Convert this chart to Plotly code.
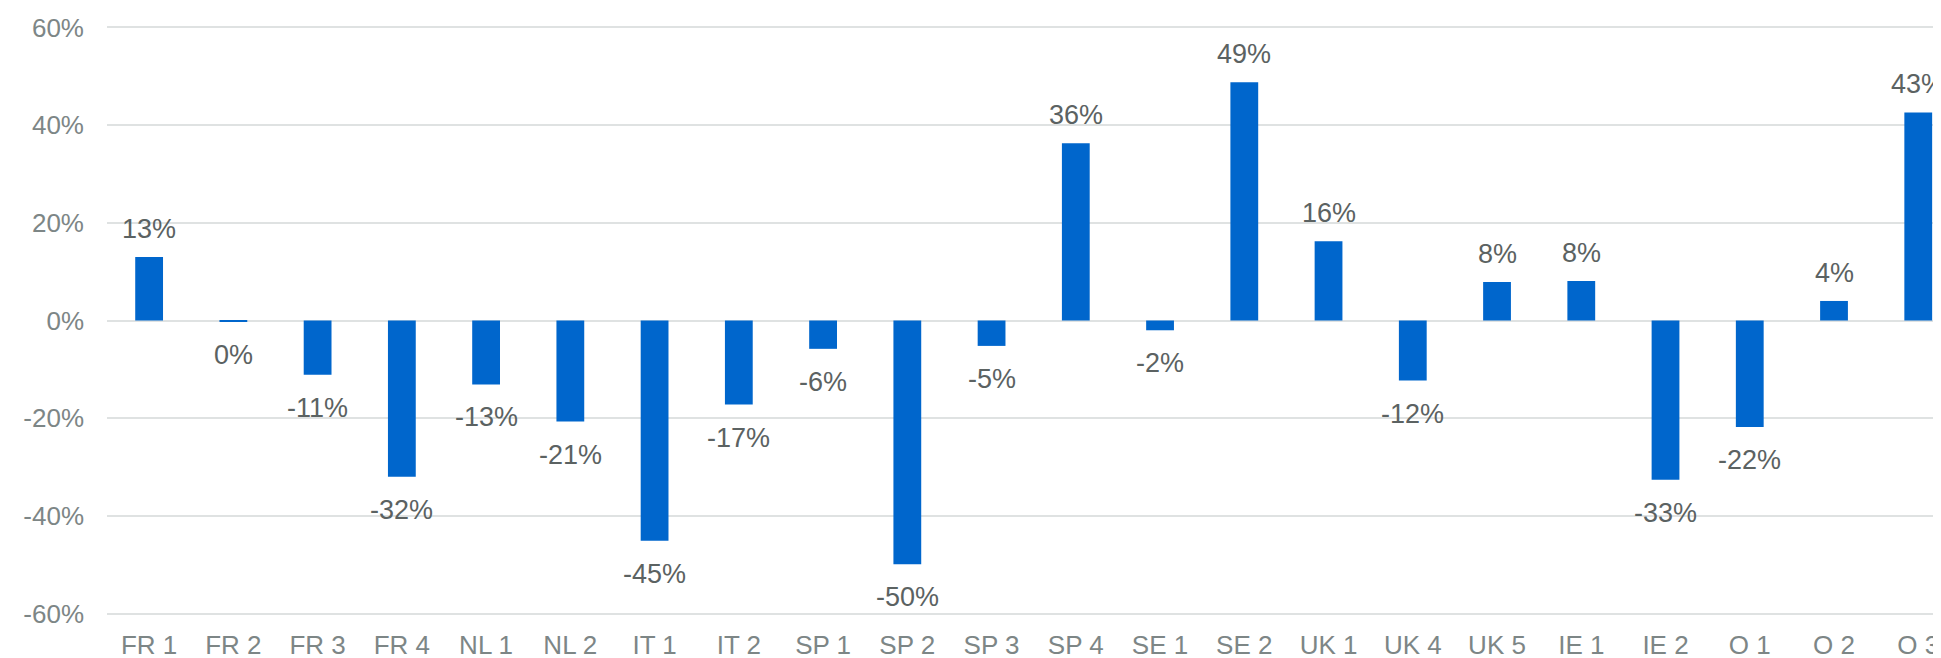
import plotly.graph_objects as go

categories = ["FR 1", "FR 2", "FR 3", "FR 4", "NL 1", "NL 2", "IT 1", "IT 2", "SP 1", "SP 2", "SP 3",
              "SP 4", "SE 1", "SE 2", "UK 1", "UK 4", "UK 5", "IE 1", "IE 2", "O 1", "O 2", "O 3"]
values = [13.0, -0.3, -11.1, -32.0, -13.1, -20.7, -45.1, -17.2, -5.8, -49.9, -5.2,
          36.3, -2.0, 48.8, 16.2, -12.3, 7.9, 8.1, -32.6, -21.8, 4.0, 42.6]
tick_values = [-60, -40, -20, 0, 20, 40, 60]
tick_labels = ["-60%", "-40%", "-20%", "0%", "20%", "40%", "60%"]

labels = [f"{int(round(v))}%" for v in values]

BAR = "#0066cc"
TICK = "#7d8686"
DATA = "#5b6262"
FONT = "Liberation Sans, Arial, sans-serif"

fig = go.Figure()
fig.add_trace(go.Bar(x=categories, y=values, marker=dict(color=BAR, line=dict(width=0)),
                     width=0.33, hoverinfo="x+y"))

annotations = []
for c, v, t in zip(categories, values, labels):
    annotations.append(dict(x=c, y=v, xref="x", yref="y", text=t, showarrow=False,
                            yanchor="middle", xanchor="center",
                            yshift=28 if v > 0 else -33,
                            font=dict(family=FONT, size=27, color=DATA)))

n = len(categories)
# the page body adds an 8px offset on the left and top
fig.update_layout(
    width=1933, height=650,
    margin=dict(l=99, r=0, t=17, b=42),
    paper_bgcolor="white", plot_bgcolor="white",
    showlegend=False,
    font=dict(family=FONT, size=26, color=TICK),
    annotations=annotations,
)
fig.update_xaxes(type="category", range=[-0.5, n - 0.5 - 0.23], showgrid=False, showline=False,
                 zeroline=False, ticks="", tickfont=dict(size=26, color=TICK),
                 ticklabelstandoff=11, automargin=False)
fig.update_yaxes(range=[-60.5, 60.5], tickvals=tick_values, ticktext=tick_labels,
                 showgrid=True, gridcolor="#dfe2e2", gridwidth=2, zeroline=False,
                 showline=False, ticks="", tickfont=dict(size=26, color=TICK),
                 ticklabelstandoff=22, automargin=False)

fig.write_html("out.html")
